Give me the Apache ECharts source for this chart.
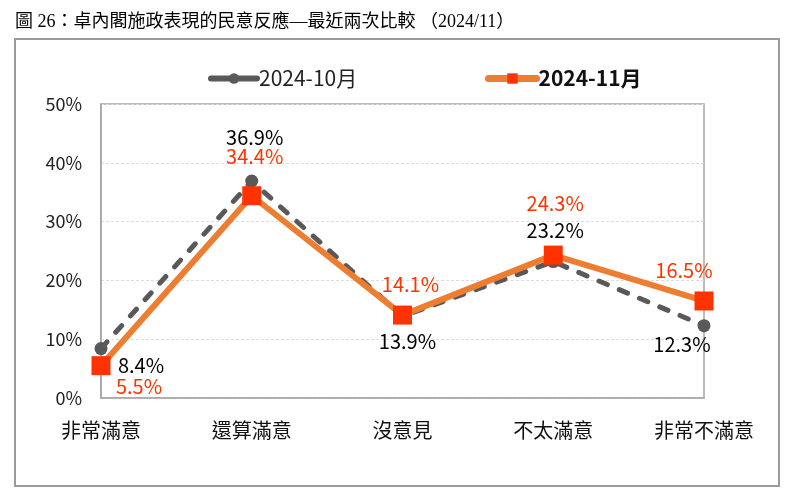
<!DOCTYPE html>
<html>
<head>
<meta charset="utf-8">
<script src="https://cdn.jsdelivr.net/npm/echarts@6/dist/echarts.min.js"></script>
<style>
html,body{margin:0;padding:0;background:#fff;}
#chart{width:800px;height:499px;}
</style>
</head>
<body>
<div id="chart"></div>
<script>
// ---- data ----
var titleText = '圖 26：卓內閣施政表現的民意反應—最近兩次比較 （2024/11）';
var categories = ['非常滿意', '還算滿意', '沒意見', '不太滿意', '非常不滿意'];
var seriesNames = ['2024-10月', '2024-11月'];
var octValues = [8.4, 36.9, 13.9, 23.2, 12.3];
var novValues = [5.5, 34.4, 14.1, 24.3, 16.5];
var yTicks = [0, 10, 20, 30, 40, 50];

// ---- label placement (style only) ----
var octOffsets = [[40, 17], [3, -44], [5, 25], [2, -31], [-22, 19]];
var novOffsets = [[38, 21], [3, -39], [8, -31], [2, -52], [-20, -31]];

var FONT = '"Noto Sans CJK TC", "Noto Sans", sans-serif';

function buildData(values, offsets, color) {
  return values.map(function (v, i) {
    return {
      value: v,
      label: {
        show: true,
        position: 'inside',
        offset: offsets[i],
        align: 'center',
        verticalAlign: 'middle',
        color: color,
        fontSize: 20,
        fontFamily: FONT,
        formatter: function (p) { return p.value.toFixed(1) + '%'; }
      }
    };
  });
}

var chart = echarts.init(document.getElementById('chart'), null, {renderer: 'canvas'});
chart.setOption({
  animation: false,
  backgroundColor: '#fff',
  title: {
    text: titleText,
    left: 10,
    top: 8,
    textStyle: {
      fontFamily: '"Liberation Serif", "Noto Sans CJK TC", serif',
      fontSize: 18,
      fontWeight: 'normal',
      color: '#000'
    }
  },
  graphic: [{
    type: 'rect',
    shape: {x: 15, y: 39, width: 764, height: 447},
    style: {fill: 'none', stroke: '#9a9a9a', lineWidth: 2},
    silent: true,
    z: -10
  }],
  legend: [{
    data: [{name: seriesNames[0]}],
    left: 203,
    top: 63,
    itemWidth: 46,
    itemHeight: 13,
    itemStyle: {},
    lineStyle: {width: 6, type: 'solid', cap: 'round'},
    textStyle: {fontFamily: FONT, fontSize: 21, color: '#222', padding: [0, 0, 0, -3]}
  }, {
    data: [seriesNames[1]],
    left: 480,
    top: 63,
    itemWidth: 48,
    itemHeight: 13,
    lineStyle: {width: 7, type: 'solid', cap: 'round'},
    textStyle: {fontFamily: FONT, fontSize: 21, color: '#111', fontWeight: 'bold', padding: [0, 0, 0, -3]}
  }],
  grid: {
    left: 101,
    right: 96,
    top: 104,
    bottom: 101,
    show: true,
    borderColor: '#a6a6a6',
    borderWidth: 1.5
  },
  xAxis: {
    type: 'category',
    data: categories,
    boundaryGap: false,
    axisLine: {lineStyle: {color: '#a6a6a6', width: 1.5}},
    axisTick: {show: false},
    axisLabel: {margin: 22, fontFamily: FONT, fontSize: 20, color: '#111'}
  },
  yAxis: {
    type: 'value',
    min: yTicks[0],
    max: yTicks[yTicks.length - 1],
    interval: yTicks[1] - yTicks[0],
    axisLine: {show: true, lineStyle: {color: '#a6a6a6', width: 1.5}},
    axisTick: {show: false},
    splitLine: {lineStyle: {color: '#dcdcdc', type: [3, 2]}},
    axisLabel: {
      margin: 19,
      fontFamily: FONT,
      fontSize: 18,
      color: '#222',
      formatter: function (v) { return v + '%'; }
    }
  },
  series: [{
    name: seriesNames[0],
    type: 'line',
    data: buildData(octValues, octOffsets, '#000'),
    symbol: 'circle',
    symbolSize: 13,
    itemStyle: {color: '#595959'},
    lineStyle: {color: '#595959', width: 5, type: [9, 13], cap: 'round'},
    z: 2
  }, {
    name: seriesNames[1],
    type: 'line',
    data: buildData(novValues, novOffsets, '#FF3300'),
    symbol: 'rect',
    symbolSize: 19,
    itemStyle: {color: '#FF3300'},
    lineStyle: {color: '#ED7D31', width: 6},
    z: 3
  }]
});
</script>
</body>
</html>
